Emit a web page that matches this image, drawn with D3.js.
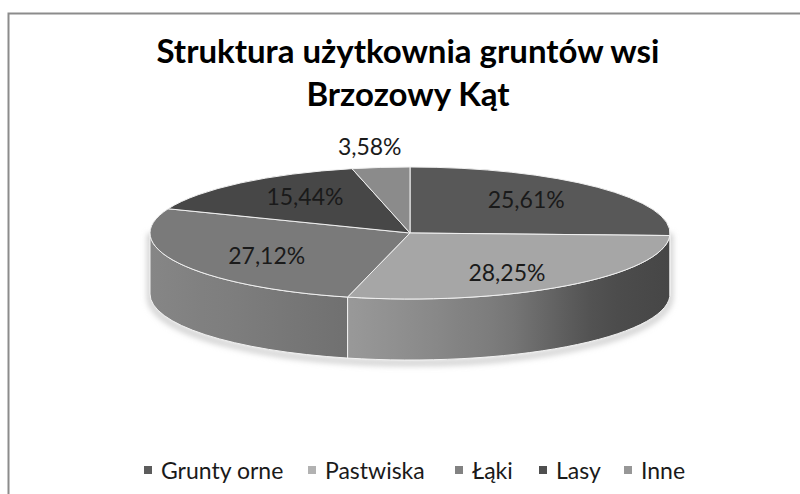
<!DOCTYPE html>
<html>
<head>
<meta charset="utf-8">
<script src="https://cdn.jsdelivr.net/npm/d3@7"></script>
<style>
  body { margin: 0; background: #fff; }
  svg { display: block; font-family: Lato, "Open Sans", sans-serif; }
</style>
</head>
<body>
<div id="chart"></div>
<script>
// data
const categories = ["Grunty orne", "Pastwiska", "Łąki", "Lasy", "Inne"];
const shares = [25.61, 28.25, 27.12, 15.44, 3.58];
const titleLines = ["Struktura użytkownia gruntów wsi", "Brzozowy Kąt"];

// greys used by the original (top face / legend key)
const topColors = ["#585858", "#a6a6a6", "#7a7a7a", "#474747", "#8b8b8b"];
const keyColors = ["#5c5c5c", "#b2b2b2", "#828282", "#4f4f4f", "#979797"];

const width = 800, height = 494;
const cx = 410, cy = 233, rx = 260, ry = 66, depth = 61;

const svg = d3.select("#chart").append("svg")
    .attr("width", width)
    .attr("height", height);

// chart frame
svg.append("rect")
    .attr("x", 8.5).attr("y", 13.5)
    .attr("width", 800).attr("height", 500)
    .attr("fill", "none")
    .attr("stroke", "#8c8c8c")
    .attr("stroke-width", 2);

// title
svg.append("g").selectAll("text")
    .data(titleLines)
    .join("text")
    .attr("x", cx - 2)
    .attr("y", (d, i) => 63 + i * 43)
    .attr("text-anchor", "middle")
    .attr("font-size", 33)
    .attr("font-weight", 700)
    .attr("fill", "#000")
    .text(d => d);

const pie = d3.pie().sort(null).value(d => d)(shares);

function pt(a, y0) {
    return [cx + rx * Math.sin(a), y0 - ry * Math.cos(a)];
}

// side shading: brightness factor by horizontal position (-1 left .. 1 right)
const shade = d3.scaleLinear()
    .domain([-1, -0.24, 0.35, 0.73, 1])
    .range([1.1, 0.92, 0.74, 0.47, 0.42]);

const defs = svg.append("defs");

const blur = defs.append("filter").attr("id", "soft")
    .attr("x", "-10%").attr("y", "-30%").attr("width", "120%").attr("height", "160%");
blur.append("feGaussianBlur").attr("stdDeviation", 3);

pie.forEach((p, i) => {
    const g = defs.append("linearGradient")
        .attr("id", "side" + i)
        .attr("gradientUnits", "userSpaceOnUse")
        .attr("x1", cx - rx).attr("x2", cx + rx)
        .attr("y1", 0).attr("y2", 0);
    d3.range(0, 1.0001, 0.05).forEach(t => {
        const c = d3.rgb(topColors[i]);
        const f = shade(t * 2 - 1);
        g.append("stop")
            .attr("offset", t)
            .attr("stop-color", d3.rgb(Math.min(255, c.r * f), Math.min(255, c.g * f), Math.min(255, c.b * f)));
    });
});

// soft shadow around the lower rim
svg.append("path")
    .attr("d", () => {
        const a = pt(Math.PI / 2, cy + 2), b = pt(3 * Math.PI / 2, cy + 2);
        const c = pt(Math.PI / 2, cy + depth + 2), e = pt(3 * Math.PI / 2, cy + depth + 2);
        return `M${b}L${e}A${rx},${ry} 0 0 0 ${c}L${a}Z`;
    })
    .attr("transform", "translate(0,1)")
    .attr("fill", "none")
    .attr("stroke", "#b8b8b8")
    .attr("stroke-width", 4)
    .attr("filter", "url(#soft)");

// sides (only the front half is visible)
const sides = svg.append("g");
pie.forEach((p, i) => {
    const s0 = Math.max(p.startAngle, Math.PI / 2);
    const s1 = Math.min(p.endAngle, 3 * Math.PI / 2);
    if (s1 <= s0) return;
    const a = pt(s0, cy), b = pt(s1, cy);
    const c = pt(s1, cy + depth), e = pt(s0, cy + depth);
    sides.append("path")
        .attr("d", `M${a}A${rx},${ry} 0 0 1 ${b}L${c}A${rx},${ry} 0 0 0 ${e}Z`)
        .attr("fill", `url(#side${i})`)
        .attr("stroke", "#f2f2f2")
        .attr("stroke-width", 1)
        .attr("stroke-linejoin", "round");
});

// top faces
const tops = svg.append("g");
pie.forEach((p, i) => {
    const a = pt(p.startAngle, cy), b = pt(p.endAngle, cy);
    const large = p.endAngle - p.startAngle > Math.PI ? 1 : 0;
    tops.append("path")
        .attr("d", `M${cx},${cy}L${a}A${rx},${ry} 0 ${large} 1 ${b}Z`)
        .attr("fill", topColors[i])
        .attr("stroke", "#f0f0f0")
        .attr("stroke-width", 1)
        .attr("stroke-linejoin", "round");
});

// data labels (small slice label sits outside the rim)
const fmt = v => v.toFixed(2).replace(".", ",") + "%";
svg.append("g").selectAll("text")
    .data(pie)
    .join("text")
    .attr("x", d => {
        const m = (d.startAngle + d.endAngle) / 2;
        const k = d.data < 5 ? 1.38 : 0.62;
        return cx + rx * k * Math.sin(m);
    })
    .attr("y", d => {
        const m = (d.startAngle + d.endAngle) / 2;
        const k = d.data < 5 ? 1.32 : 0.74;
        return cy - ry * k * Math.cos(m);
    })
    .attr("text-anchor", "middle")
    .attr("dominant-baseline", "central")
    .attr("font-size", 23)
    .attr("fill", "#1a1a1a")
    .text(d => fmt(d.data));

// legend
const legendX = [144, 308, 455, 539, 624];
const legend = svg.append("g").attr("transform", "translate(0,470)");
categories.forEach((name, i) => {
    const item = legend.append("g").attr("transform", `translate(${legendX[i]},0)`);
    item.append("rect")
        .attr("x", 0).attr("y", -4)
        .attr("width", 8).attr("height", 8)
        .attr("fill", keyColors[i]);
    item.append("text")
        .attr("x", 17).attr("y", 0)
        .attr("dominant-baseline", "central")
        .attr("font-size", 23)
        .attr("fill", "#1a1a1a")
        .text(name);
});
</script>
</body>
</html>
